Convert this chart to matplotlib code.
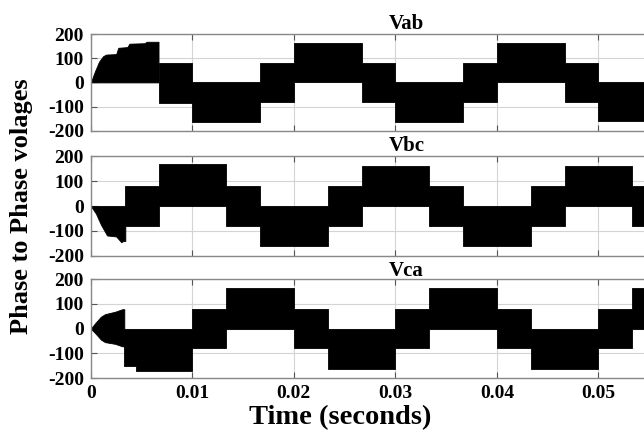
import matplotlib
matplotlib.use("Agg")
import matplotlib.pyplot as plt

plt.rcParams['font.family'] = ['Liberation Serif', 'DejaVu Serif']
plt.rcParams['font.weight'] = 'bold'

# start-up transients (envelope corners)
ab_tr_t = [0, 0.0004, 0.0008, 0.0012, 0.0015, 0.0025, 0.0027, 0.0036, 0.0038, 0.0053, 0.0055, 0.00667]
ab_tr_hi = [0, 45, 85, 108, 115, 117, 143, 146, 160, 162, 168, 168]
ab_tr_lo = [0] * len(ab_tr_t)

bc_tr_t = [0, 0.0005, 0.0010, 0.0016, 0.0025, 0.0030, 0.0032, 0.0034]
bc_tr_hi = [0] * len(bc_tr_t)
bc_tr_lo = [0, -30, -75, -118, -122, -145, -140, -140]

ca_tr_t = [0, 0.0005, 0.0010, 0.0014, 0.0024, 0.0031, 0.0033]
ca_tr_hi = [0, 25, 48, 58, 68, 78, 78]
ca_tr_lo = [0, -22, -45, -55, -62, -72, -72]

# steady-state PWM bands: segment start times, upper and lower levels
ab_t = [0.00667, 0.01, 0.01667, 0.02, 0.02667, 0.03, 0.03667, 0.04, 0.04667, 0.05, 0.057]
ab_hi = [82, 0, 80, 162, 80, 0, 80, 162, 80, 0, 0]
ab_lo = [-84, -162, -80, 0, -80, -162, -80, 0, -80, -160, -160]

bc_t = [0.0034, 0.00667, 0.01333, 0.01667, 0.02333, 0.02667, 0.03333, 0.03667, 0.04333, 0.04667, 0.05333, 0.057]
bc_hi = [82, 168, 80, 0, 80, 162, 80, 0, 80, 162, 80, 80]
bc_lo = [-80, 0, -80, -162, -80, 0, -80, -162, -80, 0, -80, -80]

ca_t = [0.0033, 0.0045, 0.01, 0.01333, 0.02, 0.02333, 0.03, 0.03333, 0.04, 0.04333, 0.05, 0.05333, 0.057]
ca_hi = [0, 0, 80, 162, 80, 0, 80, 162, 80, 0, 80, 162, 162]
ca_lo = [-150, -170, -80, 0, -80, -162, -80, 0, -80, -162, -80, 0, 0]

titles = ['Vab', 'Vbc', 'Vca']
x_ticks = [0, 0.01, 0.02, 0.03, 0.04, 0.05]
x_labels = ['0', '0.01', '0.02', '0.03', '0.04', '0.05']
y_ticks = [-200, -100, 0, 100, 200]

fig = plt.figure(figsize=(6.44, 4.36), dpi=100)
rows = [(0.700, 0.222), (0.413, 0.229), (0.133, 0.227)]
axes = [fig.add_axes([0.141, b, 0.875, h]) for b, h in rows]

data = [
    (ab_tr_t, ab_tr_lo, ab_tr_hi, ab_t, ab_lo, ab_hi),
    (bc_tr_t, bc_tr_lo, bc_tr_hi, bc_t, bc_lo, bc_hi),
    (ca_tr_t, ca_tr_lo, ca_tr_hi, ca_t, ca_lo, ca_hi),
]

for ax, title, (tt, tlo, thi, st, slo, shi) in zip(axes, titles, data):
    ax.fill_between(tt, tlo, thi, color='black', lw=0.6, edgecolor='black')
    ax.fill_between(st, slo, shi, step='post', color='black', lw=0.6, edgecolor='black')
    ax.set_xlim(0, 0.0555)
    ax.set_ylim(-200, 200)
    ax.set_xticks(x_ticks)
    ax.set_yticks(y_ticks)
    ax.set_yticklabels([str(v) for v in y_ticks], fontsize=14, fontweight='bold')
    ax.grid(True, color='#d4d4d4', lw=0.8)
    ax.set_axisbelow(True)
    ax.tick_params(direction='in', top=True, right=False, length=4, width=0.8,
                   color='#555555', pad=5)
    for s in ax.spines.values():
        s.set_color('#888888')
        s.set_linewidth(1.0)
    # the original axes ran past the right edge, so the title sits right of centre
    ax.set_title(title, fontsize=15, fontweight='bold', pad=2, x=0.56)

for ax in axes[:2]:
    ax.set_xticklabels([])
axes[2].set_xticklabels(x_labels, fontsize=14, fontweight='bold')

fig.text(0.528, 0.043, 'Time (seconds)', fontsize=20.5, fontweight='bold',
         ha='center', va='center')
fig.text(0.034, 0.527, 'Phase to Phase volages', rotation=90, fontsize=19,
         fontweight='bold', ha='center', va='center')

fig.savefig('out.png', dpi=100)
